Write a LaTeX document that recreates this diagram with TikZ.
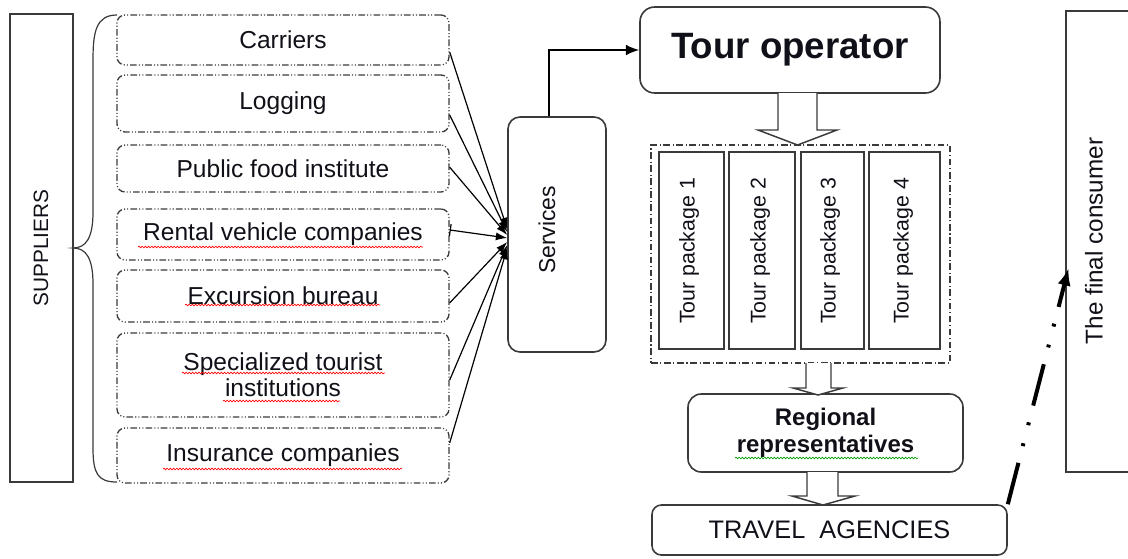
\documentclass[tikz,border=0pt]{standalone}
\usepackage{fontspec}
\setmainfont{Liberation Sans}
\usetikzlibrary{fit,arrows.meta,decorations.pathmorphing}
\definecolor{ln}{HTML}{3A3A3A}
\definecolor{tx}{HTML}{101018}
\begin{document}
\begin{tikzpicture}[x=0.75pt,y=-0.75pt,
  every node/.style={text=tx},
  every label/.style={text=tx, inner sep=0pt, align=center},
  fitbox/.style={inner sep=0pt, fit={#1}},
  supbox/.style={draw=ln, line width=1pt, rounded corners=6pt,
    dash pattern=on 5pt off 1.6pt on 0.8pt off 1.6pt on 0.8pt off 1.6pt},
  solidbox/.style={draw=ln, line width=1.2pt},
  rbox/.style={solidbox, rounded corners=#1},
  feed/.style={draw=black, line width=0.9pt, -{Latex[length=8.5pt,width=6pt]}},
  hollow/.style={draw=ln, line width=1.1pt, fill=white, line join=miter},
  txt/.style={font=\fontsize{18.4}{19.5}\selectfont},
  vtxt/.style={rotate=90, inner sep=0pt},
  squig/.style={draw=red, line width=0.5pt, decorate,
    decoration={snake, amplitude=0.6pt, segment length=2.4pt}},
  gsquig/.style={squig, draw=green!60!black},
]
\useasboundingbox (0,0) rectangle (1128,558);
\clip (0,0) rectangle (1128,558);

% suppliers
\node[solidbox, fitbox={(10,14) (73,482)}] (suppliers) {};
\node[vtxt, font=\fontsize{15.6}{18}\selectfont] (supplierstxt) at (41,248) {SUPPLIERS};

% brace
\draw[ln, line width=0.9pt] (117,15) .. controls (96,15) and (93,32) .. (93,60)
  -- (93,212) .. controls (93,238) and (86,248) .. (73,248)
  .. controls (86,248) and (93,258) .. (93,284)
  -- (93,448) .. controls (93,474) and (98,482) .. (117,482);

% supplier boxes
\node[supbox, fitbox={(117,15) (449,65)}, label={[txt]center:Carriers}] (carriers) {};
\node[supbox, fitbox={(117,75) (449,132)}, label={[txt]center:Logging}] (logging) {};
\node[supbox, fitbox={(117,145) (449,192)}, label={[txt]center:Public food institute}] (food) {};
\node[supbox, fitbox={(117,209) (449,260)}, label={[txt]center:Rental vehicle companies}] (rental) {};
\node[supbox, fitbox={(117,270) (449,322)}, label={[txt]center:Excursion bureau}] (excursion) {};
\node[supbox, fitbox={(117,333) (449,417)}, label={[txt]center:Specialized tourist\\institutions}] (special) {};
\node[supbox, fitbox={(117,428) (449,483)}, label={[txt]center:Insurance companies}] (insurance) {};

% spell-check underlines
\draw[squig] (138,247) -- (423,247);
\draw[squig] (185,305) -- (380,305);
\draw[squig] (182,373) -- (385,373);
\draw[squig] (223,401) -- (340,401);
\draw[squig] (163,469) -- (402,469);

% services
\node[rbox=9pt, fitbox={(508,117) (606,352)}] (services) {};
\node[vtxt, font=\fontsize{17.2}{20}\selectfont] (servicestxt) at (547,230) {Services};

% feeds
\draw[feed] ([yshift=-9pt]carriers.east) -- ([yshift=4.1pt]services.west);
\draw[feed] ([yshift=-8.6pt]logging.east) -- ([yshift=1.9pt]services.west);
\draw[feed] ([yshift=1pt]food.east) -- ([yshift=-0.4pt]services.west);
\draw[feed, {Bar[width=9pt,line width=0.9pt]}-{Latex[length=8.5pt,width=6pt]}] ([yshift=3.4pt]rental.east) -- ([yshift=-2.6pt]services.west);
\draw[feed] ([yshift=-5.2pt]excursion.east) -- ([yshift=-5.6pt]services.west);
\draw[feed] ([yshift=-3.8pt]special.east) -- ([yshift=-7.9pt]services.west);
\draw[feed] ([yshift=9.4pt]insurance.east) -- ([yshift=-10.1pt]services.west);

% tour operator
\node[rbox=11pt, fitbox={(640,7) (940,93)}, label={[font=\bfseries\fontsize{27.5}{30}\selectfont]center:Tour operator}] (tourop) {};
\draw[feed, line width=1.1pt, -{Latex[length=10pt,width=8pt]}] ([xshift=-6pt]services.north) |- (tourop.west);

% tour packages
\node[draw=ln, line width=1pt, dash pattern=on 5pt off 2pt on 0.8pt off 2pt, fitbox={(651,145) (950,363)}] (pkgs) {};
\node[solidbox, fitbox={(659,152) (724,349)}] (p1) {};
\node[solidbox, fitbox={(729,152) (795,349)}] (p2) {};
\node[solidbox, fitbox={(801,152) (864,349)}] (p3) {};
\node[solidbox, fitbox={(869,152) (940,349)}] (p4) {};
\node[vtxt, font=\fontsize{16}{18}\selectfont] (p1t) at (689,251) {Tour package 1};
\node[vtxt, font=\fontsize{16}{18}\selectfont] (p2t) at (760,251) {Tour package 2};
\node[vtxt, font=\fontsize{16}{18}\selectfont] (p3t) at (830,251) {Tour package 3};
\node[vtxt, font=\fontsize{16}{18}\selectfont] (p4t) at (903,251) {Tour package 4};

% regional
\node[rbox=10pt, fitbox={(688,394) (963,472)}, label={[font=\bfseries\fontsize{18}{20.5}\selectfont]center:Regional\\representatives}] (regional) {};
\draw[gsquig] (735,458) -- (918,458);

% travel agencies
\node[rbox=7pt, fitbox={(652,505) (1007,555)}, label={[font=\fontsize{19}{21}\selectfont]center:TRAVEL\ \ AGENCIES}] (travel) {};

% hollow block arrows
\draw[hollow] (778,93) -- (778,130) -- (758,130) -- (797.5,145) -- (837,130) -- (817,130) -- (817,93);
\draw[hollow] (806,363) -- (806,388) -- (793,388) -- (818,395) -- (843,388) -- (831,388) -- (831,363);
\draw[hollow] (807,472) -- (807,496) -- (792,496) -- (823,505) -- (855,496) -- (838,496) -- (838,472);

% final consumer
\node[solidbox, fitbox={(1066,11) (1145,472)}] (consumer) {};
\node[vtxt, font=\fontsize{18.2}{20}\selectfont] (consumertxt) at (1094,241) {The final consumer};

\draw[line width=3pt, dash pattern=on 32pt off 13pt on 2.2pt off 14pt on 2.2pt off 13pt,
  -{Latex[length=13pt,width=10pt]}] (travel.north east) -- ([xshift=2.5pt,yshift=-20pt]consumer.west);
\end{tikzpicture}
\end{document}
